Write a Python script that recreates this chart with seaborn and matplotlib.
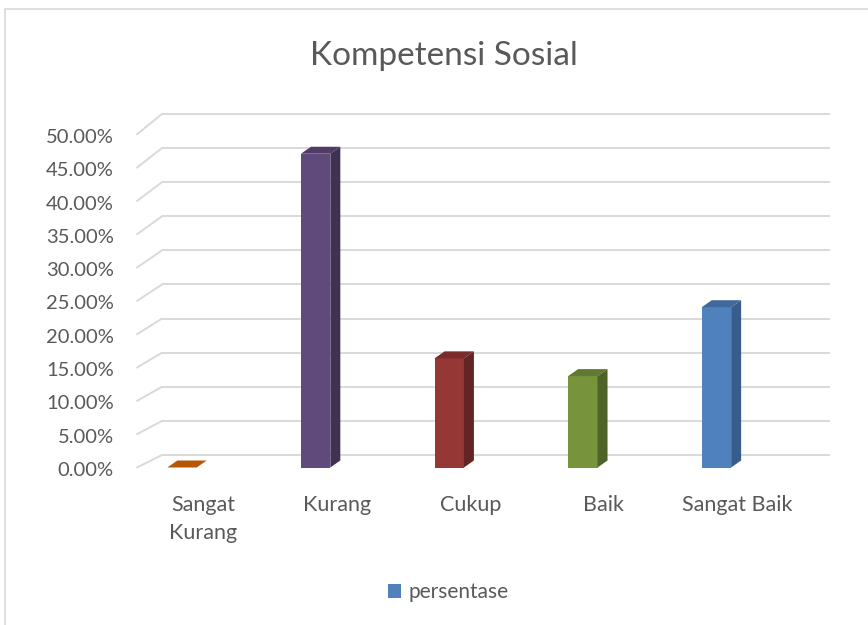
import numpy as np
import pandas as pd
import matplotlib
matplotlib.use("Agg")
import matplotlib.pyplot as plt
import matplotlib.transforms as mtransforms
from matplotlib.patches import Polygon, Patch, Rectangle
import seaborn as sns

# ── Data ───────────────────────────────────────────────
categories = ["Sangat\nKurang", "Kurang", "Cukup", "Baik", "Sangat Baik"]
persentase = [0.0, 46.0, 16.0, 13.4, 23.5]
y_ticks = [0, 5, 10, 15, 20, 25, 30, 35, 40, 45, 50]
title = "Kompetensi Sosial"
legend_label = "persentase"

front_colors = ["#B65708", "#604A7B", "#953735", "#77933C", "#4F81BD"]
top_colors   = ["#B65708", "#4F3D66", "#7A2C2A", "#617A31", "#41699C"]
side_colors  = ["#8A4206", "#3F3151", "#632523", "#4F6228", "#385D8A"]

TEXT = "#595959"
GRID = "#D9D9D9"

sns.set_style("white")
plt.rcParams["font.family"] = ["Lato", "DejaVu Sans"]

W, H = 868, 625
fig = plt.figure(figsize=(W / 100, H / 100), dpi=100)

# plot area in pixels: x 137..830, y 100..467.5 (y=0 at bottom)
ax = fig.add_axes([137 / W, 1 - 467.5 / H, (830 - 137) / W, (467.5 - 100) / H])

df = pd.DataFrame({"kategori": categories, "persentase": persentase})
sns.barplot(data=df, x="kategori", y="persentase", hue="kategori",
            palette=front_colors, width=0.22, legend=False, ax=ax,
            saturation=1, linewidth=0, zorder=3)

ax.set_xlim(-0.337, 4.85)
ax.set_ylim(0, 53.88)
for s in ax.spines.values():
    s.set_visible(False)
ax.set_xlabel("")
ax.set_ylabel("")
ax.set_yticks([])
ax.tick_params(axis="x", length=0, pad=20, labelsize=15.5, labelcolor=TEXT)

# pixel -> data scale
p0 = ax.transData.transform((0, 0))
p1 = ax.transData.transform((1, 1))
sx, sy = p1[0] - p0[0], p1[1] - p0[1]

# shift x tick labels right (perspective look)
shift = mtransforms.ScaledTranslation(21 / 100, 0, fig.dpi_scale_trans)
for lab in ax.get_xticklabels():
    lab.set_transform(lab.get_transform() + shift)
    lab.set_linespacing(1.5)

# ── 3D-ish gridlines: back wall + floor diagonals ─────────
back_dy = 12.5 / sy
x_front = ax.get_xlim()[0]
x_back = x_front + 25 / sx
for v in y_ticks:
    yb = v + back_dy
    yf = v * 0.977
    ax.plot([x_back, ax.get_xlim()[1]], [yb, yb], color=GRID, lw=1.4,
            zorder=1, clip_on=False, solid_capstyle="butt")
    ax.plot([x_front, x_back], [yf, yb], color=GRID, lw=1.4, zorder=1,
            clip_on=False)
    ax.text(x_front - 23 / sx, yf - 0.45, f"{v:.2f}%", ha="right",
            va="center", fontsize=14.5, color=TEXT)

# ── bar depth faces ───────────────────────────────────
ddx = 10 / sx
ddy = 7 / sy
for i, bar in enumerate(ax.patches):
    x0 = bar.get_x()
    x1 = x0 + bar.get_width()
    h = bar.get_height()
    top = Polygon([(x0, h), (x1, h), (x1 + ddx, h + ddy), (x0 + ddx, h + ddy)],
                  closed=True, facecolor=top_colors[i], edgecolor="none", zorder=3)
    ax.add_patch(top)
    if h > 0:
        side = Polygon([(x1, 0), (x1 + ddx, ddy), (x1 + ddx, h + ddy), (x1, h)],
                       closed=True, facecolor=side_colors[i], edgecolor="none", zorder=3)
        ax.add_patch(side)

# ── title, legend, frame ──────────────────────────────
fig.text(444 / W, 1 - 56 / H, title, ha="center", va="center",
         fontsize=24, color=TEXT)

handle = Patch(facecolor=front_colors[-1], edgecolor="none")
fig.legend([handle], [legend_label], loc="center",
           bbox_to_anchor=(448 / W, 1 - 592 / H), frameon=False,
           fontsize=15, labelcolor=TEXT, handlelength=0.65, handleheight=0.65,
           handletextpad=0.35)

fig.patches.append(Rectangle((5, -100), 2000, H - 9 + 100, transform=None,
                             fill=False, edgecolor=GRID, lw=1.2))

fig.savefig("out.png", dpi=100)
